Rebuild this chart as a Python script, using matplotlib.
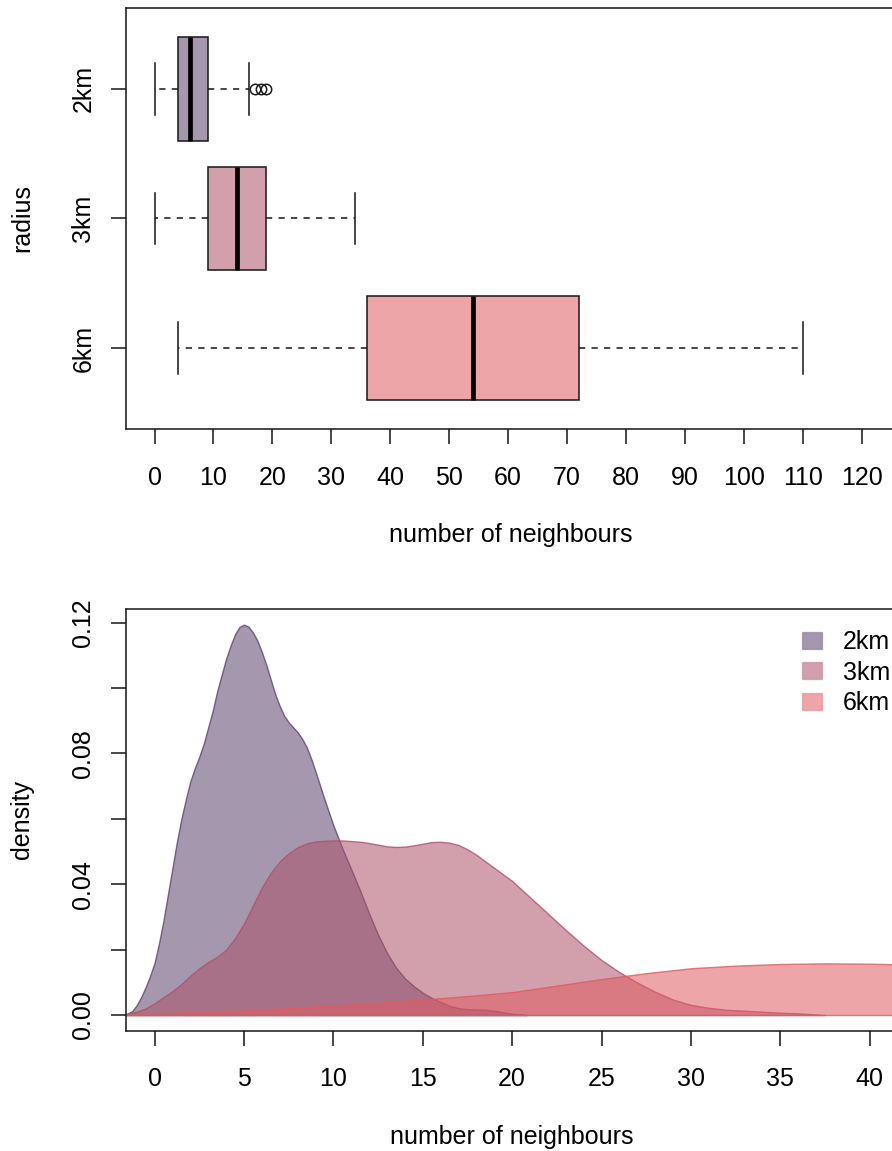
import matplotlib
matplotlib.use('Agg')
import matplotlib.pyplot as plt
from matplotlib.patches import Patch
from matplotlib.colors import to_rgba

plt.rcParams['font.family'] = ['Liberation Sans', 'DejaVu Sans']
plt.rcParams['font.size'] = 18

# ---------------- data ----------------
radius_labels = ['2km', '3km', '6km']
box_whislo = [0, 0, 4]
box_q1 = [4, 9, 36]
box_med = [6, 14, 54]
box_q3 = [9, 19, 72]
box_whishi = [16, 34, 110]
box_fliers = [[17, 18, 19], [], []]

dens_x_2km = [-1.6, -1.25, -1.0, -0.75, -0.5, -0.25, 0.0, 0.25, 0.5, 0.75, 1.0, 1.25,
              1.5, 1.75, 2.0, 2.25, 2.5, 2.75, 3.0, 3.25, 3.5, 3.75, 4.0, 4.25, 4.5,
              4.75, 5.0, 5.25, 5.5, 5.75, 6.0, 6.25, 6.5, 6.75, 7.0, 7.25, 7.5, 7.75,
              8.0, 8.25, 8.5, 8.75, 9.0, 9.5, 10.0, 10.5, 11.0, 11.5, 12.0, 12.5, 13.0,
              13.5, 14.0, 14.5, 15.0, 15.5, 16.0, 16.5, 17.0, 17.5, 18.0, 18.5, 19.0,
              19.5, 20.0, 20.8]
dens_y_2km = [0.0002, 0.0012, 0.003, 0.0055, 0.0085, 0.012, 0.016, 0.022, 0.029, 0.037,
              0.045, 0.053, 0.060, 0.066, 0.0715, 0.0755, 0.079, 0.083, 0.088, 0.093,
              0.099, 0.104, 0.109, 0.113, 0.1165, 0.1187, 0.1194, 0.1188, 0.117, 0.1145,
              0.111, 0.107, 0.1025, 0.098, 0.0945, 0.0915, 0.0895, 0.088, 0.0865, 0.0845,
              0.082, 0.0785, 0.0745, 0.066, 0.058, 0.051, 0.0445, 0.038, 0.031, 0.0245,
              0.019, 0.0145, 0.0112, 0.0088, 0.0068, 0.0052, 0.004, 0.0028, 0.0021,
              0.0018, 0.0017, 0.0016, 0.0013, 0.0008, 0.0004, 0.0]

dens_x_3km = [-1.6, -1.0, -0.5, 0.0, 0.5, 1.0, 1.5, 2.0, 2.5, 3.0, 3.5, 4.0, 4.5, 5.0,
              5.5, 6.0, 6.5, 7.0, 7.5, 8.0, 8.5, 9.0, 9.5, 10.0, 10.5, 11.0, 11.5, 12.0,
              12.5, 13.0, 13.5, 14.0, 14.5, 15.0, 15.5, 16.0, 16.5, 17.0, 17.5, 18.0,
              18.5, 19.0, 19.5, 20.0, 20.5, 21, 22, 23, 24, 25, 26, 27, 28, 29, 30, 31,
              32, 33, 34, 35, 36, 37.5]
dens_y_3km = [0.0003, 0.001, 0.002, 0.0036, 0.0055, 0.0073, 0.0095, 0.012, 0.0143,
              0.0162, 0.0178, 0.0200, 0.0235, 0.028, 0.0335, 0.039, 0.0435, 0.0470,
              0.0495, 0.0513, 0.0525, 0.0531, 0.0533, 0.0534, 0.0534, 0.0532, 0.0530,
              0.0526, 0.0521, 0.0516, 0.0514, 0.0515, 0.0519, 0.0524, 0.0529, 0.053,
              0.0527, 0.052, 0.0507, 0.049, 0.047, 0.045, 0.043, 0.041, 0.0385, 0.036,
              0.031, 0.026, 0.0212, 0.0168, 0.0131, 0.0099, 0.0071, 0.0047, 0.0031,
              0.0022, 0.0016, 0.0013, 0.0010, 0.0007, 0.0005, 0.0]

dens_x_6km = [-1.6, 0, 2.5, 5, 7.5, 10, 12.5, 15, 17.5, 20, 22.5, 25, 27.5, 30, 32.5,
              35, 37.5, 40, 42.5]
dens_y_6km = [0.0002, 0.0005, 0.0009, 0.0014, 0.0021, 0.0029, 0.0037, 0.0047, 0.0058,
              0.0070, 0.0090, 0.0110, 0.0128, 0.0143, 0.0151, 0.0156, 0.0158, 0.0157,
              0.0154]

top_xticks = list(range(0, 130, 10))
bot_xticks = list(range(0, 45, 5))
bot_yticks = [0.00, 0.02, 0.04, 0.06, 0.08, 0.10, 0.12]
bot_yticklabels = ['0.00', '', '0.04', '', '0.08', '', '0.12']

base_colors = ['#5B446C', '#AD5268', '#E05B61']
fill_alpha = 0.55
fills = [to_rgba(c, fill_alpha) for c in base_colors]
edges = [to_rgba(c, 0.8) for c in base_colors]

# ---------------- figure ----------------
W, H = 892, 1151
fig = plt.figure(figsize=(W / 100, H / 100), dpi=100)


def px_axes(left, top, right, bottom):
    return fig.add_axes([left / W, 1 - bottom / H, (right - left) / W, (bottom - top) / H])


ink = '#1a1a1a'

# ---- top: boxplot ----
ax1 = px_axes(126, 8, 896.4, 429)
stats = []
for i in range(3):
    stats.append(dict(med=box_med[i], q1=box_q1[i], q3=box_q3[i],
                      whislo=box_whislo[i], whishi=box_whishi[i],
                      fliers=box_fliers[i]))
kw = dict(positions=[1, 2, 3], widths=0.8, capwidths=0.4, patch_artist=True,
          showfliers=True,
          boxprops=dict(linewidth=1.125, edgecolor=ink),
          medianprops=dict(color='black', linewidth=3.4, solid_capstyle='butt'),
          whiskerprops=dict(linestyle=(0, (4, 4)), linewidth=1.125, color=ink),
          capprops=dict(linewidth=1.125, color=ink),
          flierprops=dict(marker='o', markerfacecolor='none', markeredgecolor=ink,
                          markersize=7.5, markeredgewidth=1.1))
try:
    res = ax1.bxp(stats, orientation='horizontal', **kw)
except TypeError:
    res = ax1.bxp(stats, vert=False, **kw)
for b, f in zip(res['boxes'], fills):
    b.set_facecolor(f)

ax1.set_xticks(top_xticks)
ax1.set_yticks([1, 2, 3])
ax1.set_yticklabels(radius_labels, rotation=90, va='center')
ax1.set_xlim(-4.84, 125.9)
ax1.set_ylim(3.62, 0.38)
ax1.set_xlabel('number of neighbours')
ax1.set_ylabel('radius')

# ---- bottom: densities ----
ax2 = px_axes(126, 609, 898.3, 1030.7)
series = [(dens_x_2km, dens_y_2km), (dens_x_3km, dens_y_3km), (dens_x_6km, dens_y_6km)]
for (xs, ys), f, e in zip(series, fills, edges):
    ax2.fill_between(xs, ys, 0, facecolor=f, edgecolor=e, linewidth=1.0)

ax2.set_xticks(bot_xticks)
ax2.set_yticks(bot_yticks)
ax2.set_yticklabels(bot_yticklabels, rotation=90, va='center')
ax2.set_xlim(-1.6, 41.6)
ax2.set_ylim(-0.0048, 0.1242)
ax2.set_xlabel('number of neighbours')
ax2.set_ylabel('density')

handles = [Patch(facecolor=f, edgecolor=to_rgba(c, 0.35), linewidth=1.0)
           for f, c in zip(fills, base_colors)]
ax2.legend(handles, radius_labels, loc='upper left',
           bbox_to_anchor=(801.7 / W, 1 - 630 / H), bbox_transform=fig.transFigure,
           frameon=False, borderpad=0, borderaxespad=0, handlelength=0.8,
           handleheight=0.68, handletextpad=0.84, labelspacing=0.26, fontsize=18)

for ax, (w_px, h_px) in zip([ax1, ax2], [(770.4, 421), (772.3, 421.7)]):
    for s in ax.spines.values():
        s.set_linewidth(1.125)
        s.set_color(ink)
    ax.tick_params(axis='both', direction='out', length=10.8, width=1.125, color=ink,
                   labelsize=18)
    ax.tick_params(axis='x', pad=15.5)
    ax.tick_params(axis='y', pad=11.3)
    ax.xaxis.set_label_coords(0.5, -106 / h_px)
    ax.xaxis.label.set_va('center')
    ax.yaxis.set_label_coords(-104 / w_px, 0.5)
    ax.yaxis.label.set_va('center')
    ax.yaxis.label.set_ha('center')

fig.savefig('out.png', dpi=100)
